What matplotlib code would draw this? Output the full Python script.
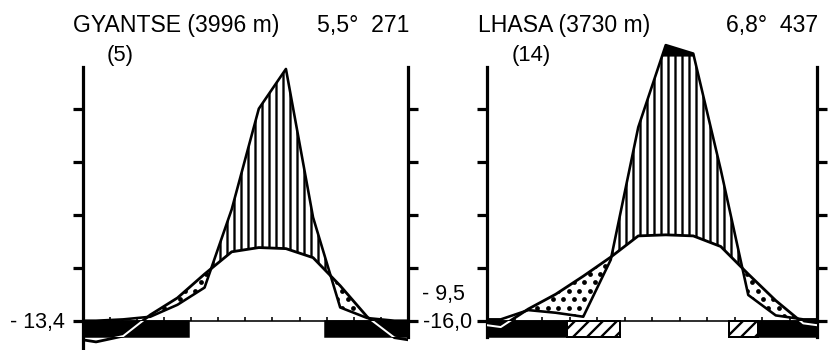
import matplotlib.pyplot as plt
import numpy as np
from matplotlib.patches import Rectangle
from matplotlib.path import Path

plt.rcParams['font.family'] = ['Liberation Sans', 'DejaVu Sans']
plt.rcParams['hatch.linewidth'] = 2.0

DPI = 84
W, H = 836, 350

# monthly means (°C) and monthly totals (mm), Jan..Dec
gyantse_temp = [-4.0, -2.9, 1.1, 4.3, 8.8, 13.0, 13.8, 13.6, 11.9, 6.6, 0.7, -3.2]
gyantse_precip = [0, 0.5, 1.5, 6, 12.5, 42, 80, 95, 39, 5, 1, 0]
gyantse_frost = [(0.0, 3.93), (8.95, 12.0)]
gyantse_late_frost = []

lhasa_temp = [-1.2, 2.2, 5.0, 8.4, 12.0, 16.0, 16.2, 16.0, 14.0, 8.8, 3.8, -0.5]
lhasa_precip = [0.5, 4, 3, 1.5, 23, 73, 140, 108, 57, 9.7, 2, 0.5]
lhasa_frost = [(0.0, 2.9), (9.85, 12.0)]
lhasa_late_frost = [(2.9, 4.85), (8.8, 9.85)]

stations = [
    dict(name='GYANTSE (3996 m)', years='(5)', summary='5,5°  271',
         temp=gyantse_temp, precip=gyantse_precip,
         frost=gyantse_frost, late_frost=gyantse_late_frost,
         box=(82.5, 408), low_spine=-5.5,
         notes=[('- 13,4', 65, 328)]),
    dict(name='LHASA (3730 m)', years='(14)', summary='6,8°  437',
         temp=lhasa_temp, precip=lhasa_precip,
         frost=lhasa_frost, late_frost=lhasa_late_frost,
         box=(487, 817), low_spine=-3.0,
         notes=[('- 9,5', 465, 300), ('-16,0', 472, 328)]),
]

PX_PER_UNIT = 5.3      # 10 °C / 20 mm per scale step
BASE_Y = 320.7         # pixel row of the zero line
YMIN, YMAX = -5.5, 54
TOP = 47.9
BAR_H = 3.0


def pt(px):
    return px * 72 / DPI


def precip_units(p):
    p = np.asarray(p, dtype=float)
    return np.where(p <= 100, p / 2, 50 + (p - 100) / 20)


def wrap(vals):
    # close the year at both edges with the Dec/Jan average
    edge = (vals[0] + vals[-1]) / 2
    return np.concatenate([[edge], vals, [edge]])


def dotted_fill(ax, x, lower, upper, px_per_month):
    coll = ax.fill_between(x, lower, upper, where=upper > lower, interpolate=True,
                           facecolor='white', edgecolor='none', zorder=1)
    paths = coll.get_paths()
    if not paths:
        return
    clip = Path.make_compound_path(*paths)
    step = 10.5
    dx = step / px_per_month
    dy = step * 0.8 / PX_PER_UNIT
    pts = []
    for i, yy in enumerate(np.arange(0.9, 50, dy)):
        off = dx / 2 if i % 2 else 0
        for xx in np.arange(off + 0.1, 12, dx):
            pts.append((xx, yy))
    pts = np.array(pts)
    sc = ax.scatter(pts[:, 0], pts[:, 1], s=pt(4.8) ** 2, color='black',
                    linewidths=0, zorder=2)
    sc.set_clip_path(clip, ax.transData)


fig = plt.figure(figsize=(W / DPI, H / DPI), dpi=DPI)

bottom_px = BASE_Y - YMIN * PX_PER_UNIT
top_px = BASE_Y - YMAX * PX_PER_UNIT

for st in stations:
    x0, x1 = st['box']
    ax = fig.add_axes([x0 / W, (H - bottom_px) / H, (x1 - x0) / W,
                       (bottom_px - top_px) / H])
    px_per_month = (x1 - x0) / 12

    x = np.concatenate([[0], np.arange(12) + 0.5, [12]])
    t = wrap(np.asarray(st['temp'], dtype=float))
    p = wrap(precip_units(st['precip']))

    # humid season: vertical hatching between temperature and rainfall
    low = np.maximum(t, 0)
    ax.fill_between(x, low, p, where=p > low, interpolate=True,
                    facecolor='white', edgecolor='black', linewidth=0,
                    hatch='||', zorder=1)
    # arid season: dots
    dotted_fill(ax, x, p, t, px_per_month)
    # rainfall above 100 mm, reduced scale
    ax.fill_between(x, 50, p, where=p > 50, interpolate=True,
                    facecolor='black', edgecolor='black', linewidth=0.5, zorder=2)

    ax.plot(x, t, color='black', lw=pt(2.8), zorder=3, solid_joinstyle='round')
    ax.plot(x, p, color='black', lw=pt(2.6), zorder=3, solid_joinstyle='round')

    # frost bars below the zero line
    for a, b in st['frost']:
        r = Rectangle((a, -BAR_H), b - a, BAR_H, facecolor='black',
                      edgecolor='black', lw=pt(1.5), zorder=4)
        ax.add_patch(r)
        wl, = ax.plot(x, t, color='white', lw=pt(2.0), zorder=5)
        wl.set_clip_path(r)
    for a, b in st['late_frost']:
        ax.add_patch(Rectangle((a, -BAR_H), b - a, BAR_H, facecolor='white',
                               edgecolor='black', lw=pt(2.0), hatch='//',
                               zorder=4))

    ax.set_xlim(0, 12)
    ax.set_ylim(YMIN, YMAX)
    ax.set_facecolor('none')
    ax.spines['top'].set_visible(False)
    for side in ['left', 'right']:
        ax.spines[side].set_linewidth(pt(3.2))
    ax.spines['left'].set_bounds(st['low_spine'], TOP)
    ax.spines['right'].set_bounds(-BAR_H, TOP)
    ax.spines['bottom'].set_position(('data', 0))
    ax.spines['bottom'].set_bounds(0, 12)
    ax.spines['bottom'].set_linewidth(pt(1.6))

    ax.set_yticks([0, 10, 20, 30, 40])
    ax.tick_params(axis='y', left=True, right=True, direction='out',
                   length=pt(10), width=pt(3.2), labelleft=False, labelright=False)
    ax.set_xticks(range(1, 12))
    ax.tick_params(axis='x', direction='in', length=pt(4), width=pt(1.6),
                   labelbottom=False)

    fig.text((x0 - 9.5) / W, 1 - 32 / H, st['name'],
             fontsize=pt(23), ha='left', va='baseline')
    fig.text((x1 + 1) / W, 1 - 32 / H, st['summary'], fontsize=pt(23),
             ha='right', va='baseline')
    fig.text((x0 + 24.5) / W, 1 - 61 / H, st['years'], fontsize=pt(22),
             ha='left', va='baseline')
    for label, rx, by in st['notes']:
        fig.text(rx / W, 1 - by / H, label, fontsize=pt(21.5),
                 ha='right', va='baseline')

fig.savefig('out.png', dpi=DPI)
